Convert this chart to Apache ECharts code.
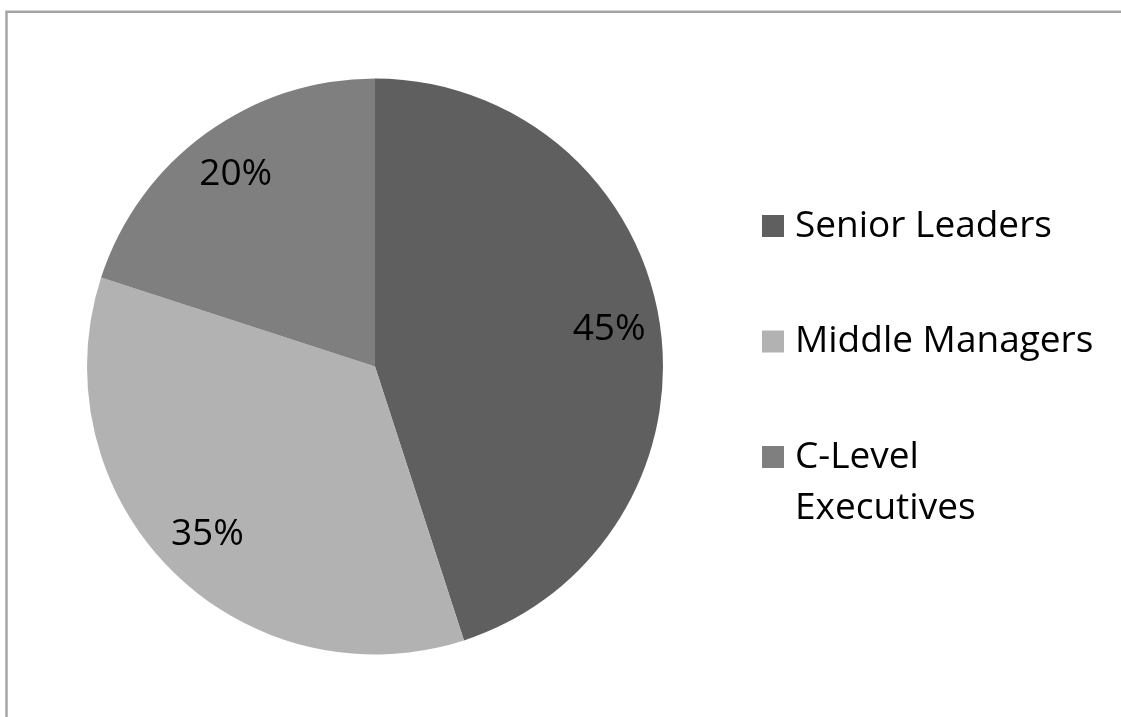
<!DOCTYPE html>
<html>
<head>
<meta charset="utf-8">
<style>
  html, body { margin: 0; padding: 0; background: #fff; }
  #piechart { width: 1121px; height: 717px; }
</style>
<script src="https://cdn.jsdelivr.net/npm/echarts@6/dist/echarts.min.js"></script>
</head>
<body>
<div id="piechart"></div>
<script>
var categories = ["Senior Leaders", "Middle Managers", "C-Level Executives"];
var shares = [45, 35, 20];
var sliceColors = ["#5f5f5f", "#b2b2b2", "#7f7f7f"];

var dom = document.getElementById("piechart");
var piechart = echarts.init(dom, null, {renderer: 'canvas'});

var lh = 51; // legend line height
var pieData = [];
categories.forEach(function(name, index) {
  pieData.push({value: shares[index], name: name, itemStyle: {color: sliceColors[index]}});
});

option = {
  animation: false,
  graphic: [{
    type: 'rect',
    silent: true,
    shape: {x: 6.5, y: 11.8, width: 1600, height: 1000},
    style: {fill: 'none', stroke: '#a6a6a6', lineWidth: 2.5}
  }],
  legend: {
    orient: 'vertical',
    left: 762,
    top: 149.5,
    padding: 0,
    itemGap: -37.5,
    itemWidth: 22,
    itemHeight: 22,
    icon: 'rect',
    selectedMode: false,
    data: categories,
    // every item is three lines tall so the icon sits on the middle one
    formatter: function(name) {
      if (name === "C-Level Executives") return "\nC-Level\nExecutives";
      return "\n" + name + "\n";
    },
    textStyle: {
      fontFamily: 'Open Sans',
      fontSize: 37,
      lineHeight: lh,
      color: '#000',
      padding: [0, 0, 0, 6]
    }
  },
  series: [
    {
      type: 'pie',
      center: [375, 366.5],
      radius: [0, 288],
      startAngle: 90,
      clockwise: true,
      silent: true,
      label: {show: false},
      labelLine: {show: false},
      itemStyle: {borderWidth: 0},
      data: pieData
    },
    {
      // transparent ring, only used to place the percentage labels
      type: 'pie',
      center: [375, 366.5],
      radius: [180, 288],
      startAngle: 90,
      clockwise: true,
      silent: true,
      itemStyle: {color: 'rgba(0,0,0,0)', borderWidth: 0},
      label: {
        show: true,
        position: 'inside',
        formatter: '{c}%',
        fontFamily: 'Open Sans',
        fontSize: 37,
        color: '#000'
      },
      labelLine: {show: false},
      data: pieData.map(function(d) { return {value: d.value, name: d.name}; })
    }
  ]
};
piechart.setOption(option, true);
</script>
</body>
</html>
